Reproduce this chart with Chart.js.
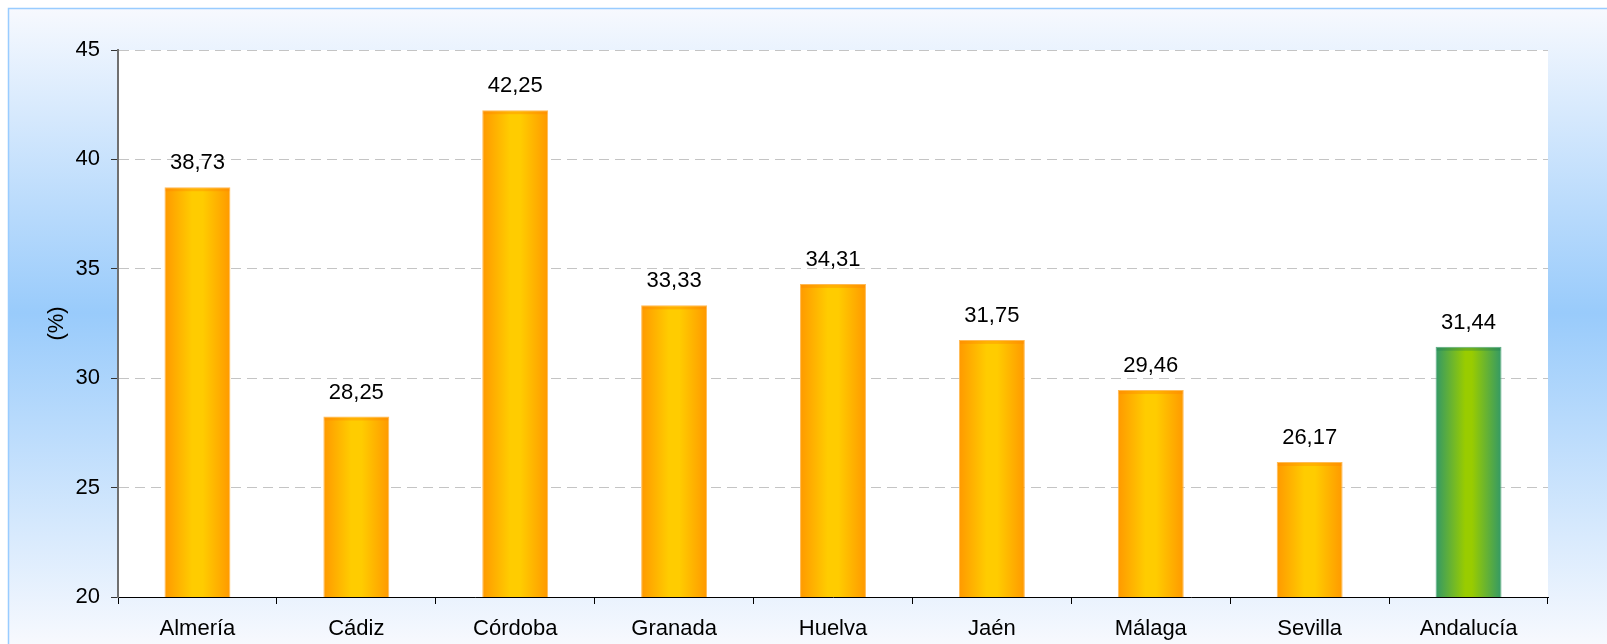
<!DOCTYPE html>
<html>
<head>
<meta charset="utf-8">
<script src="https://cdn.jsdelivr.net/npm/chart.js@4/dist/chart.umd.min.js"></script>
<style>
  html, body { margin: 0; padding: 0; background: #fff; }
  #wrap { width: 1607px; height: 644px; }
</style>
</head>
<body>
<div id="wrap"><canvas id="chart" width="1607" height="644"></canvas></div>
<script>
// Data
const categories = ['Almería', 'Cádiz', 'Córdoba', 'Granada', 'Huelva', 'Jaén', 'Málaga', 'Sevilla', 'Andalucía'];
const values = [38.73, 28.25, 42.25, 33.33, 34.31, 31.75, 29.46, 26.17, 31.44];
const yTicks = [20, 25, 30, 35, 40, 45];
const totalCategory = 'Andalucía';

const FONT = '"Liberation Sans", Arial, sans-serif';
const FONT_SIZE = 22;
const BAR_PCT = 0.415;

// Horizontal "cylinder" gradient for each bar
function barFill(ctx) {
  const chart = ctx.chart;
  const xs = chart.scales.x;
  if (!xs || !chart.chartArea) return '#ffcc00';
  const cx = xs.getPixelForValue(ctx.dataIndex);
  const half = (xs.width / categories.length) * BAR_PCT / 2;
  const g = chart.ctx.createLinearGradient(cx - half, 0, cx + half, 0);
  if (categories[ctx.dataIndex] === totalCategory) {
    g.addColorStop(0, '#339966');
    g.addColorStop(0.45, '#99cc00');
    g.addColorStop(0.55, '#99cc00');
    g.addColorStop(1, '#339966');
  } else {
    g.addColorStop(0, '#ff9900');
    g.addColorStop(0.42, '#ffcc00');
    g.addColorStop(0.58, '#ffcc00');
    g.addColorStop(1, '#ff9900');
  }
  return g;
}

// Page background: blue band fading to white at top and bottom, thin border
const backdrop = {
  id: 'backdrop',
  beforeDraw(chart) {
    const { ctx, width, height, chartArea } = chart;
    ctx.save();
    ctx.fillStyle = '#ffffff';
    ctx.fillRect(0, 0, width, height);
    const g = ctx.createLinearGradient(0, 8, 0, height);
    g.addColorStop(0, '#f7f9fe');
    g.addColorStop(0.48, '#99cbfb');
    g.addColorStop(1, '#f7f9fe');
    ctx.fillStyle = g;
    ctx.fillRect(8, 8, width - 8, height - 8);
    ctx.strokeStyle = '#99ccff';
    ctx.lineWidth = 1.5;
    ctx.beginPath();
    ctx.moveTo(8.5, height);
    ctx.lineTo(8.5, 8.5);
    ctx.lineTo(width, 8.5);
    ctx.stroke();
    ctx.fillStyle = '#ffffff';
    ctx.fillRect(chartArea.left, chartArea.top, chartArea.right - chartArea.left, chartArea.bottom - chartArea.top);
    ctx.restore();
  },
};

// Value labels above bars, Spanish decimal comma
const valueLabels = {
  id: 'valueLabels',
  afterDatasetsDraw(chart) {
    const { ctx } = chart;
    const meta = chart.getDatasetMeta(0);
    ctx.save();
    meta.data.forEach((bar, i) => {
      // darker cap at the top of each bar
      ctx.fillStyle = categories[i] === totalCategory ? 'rgba(30,120,80,0.35)' : 'rgba(255,130,0,0.35)';
      ctx.fillRect(bar.x - bar.width / 2 + 1, bar.y + 1, bar.width - 2, 3);
      ctx.fillStyle = '#000';
      ctx.font = FONT_SIZE + 'px ' + FONT;
      ctx.textAlign = 'center';
      ctx.textBaseline = 'middle';
      ctx.fillText(values[i].toFixed(2).replace('.', ','), bar.x, bar.y - 24);
    });
    ctx.restore();
  },
};

new Chart(document.getElementById('chart'), {
  type: 'bar',
  data: {
    labels: categories,
    datasets: [
      {
        data: values,
        backgroundColor: barFill,
        borderColor: (c) => (categories[c.dataIndex] === totalCategory ? '#5fae86' : '#ffbb55'),
        borderWidth: 1,
        borderSkipped: 'bottom',
        barPercentage: BAR_PCT,
        categoryPercentage: 1,
      },
    ],
  },
  options: {
    responsive: false,
    animation: false,
    devicePixelRatio: 1,
    layout: { padding: { left: 0, top: 50, right: 59, bottom: 0 } },
    plugins: {
      legend: { display: false },
      tooltip: { enabled: false },
    },
    scales: {
      x: {
        offset: true,
        afterFit: (s) => { s.height = 47; },
        grid: {
          offset: true,
          drawOnChartArea: false,
          drawTicks: true,
          tickLength: 7,
          tickColor: '#000',
          lineWidth: 1,
        },
        border: { display: true, color: '#000', width: 1 },
        ticks: { color: '#000', font: { family: FONT, size: FONT_SIZE }, padding: 12, maxRotation: 0 },
      },
      y: {
        min: 20,
        max: 45,
        afterFit: (s) => { s.width = 118; },
        afterBuildTicks: (s) => { s.ticks = yTicks.map((v) => ({ value: v })); },
        grid: {
          color: (c) => (c.tick && c.tick.value === 20 ? 'rgba(0,0,0,0)' : '#c4c4c4'),
          tickBorderDash: [],
          tickColor: '#333',
          tickLength: 7,
          lineWidth: 1,
        },
        border: { display: true, color: '#707070', width: 2, dash: [10, 6] },
        ticks: { color: '#000', font: { family: FONT, size: FONT_SIZE }, padding: 11 },
        title: {
          display: true,
          text: '(%)',
          color: '#000',
          font: { family: FONT, size: FONT_SIZE },
          padding: { top: 44, bottom: 0 },
        },
      },
    },
  },
  plugins: [backdrop, valueLabels],
});
</script>
</body>
</html>
